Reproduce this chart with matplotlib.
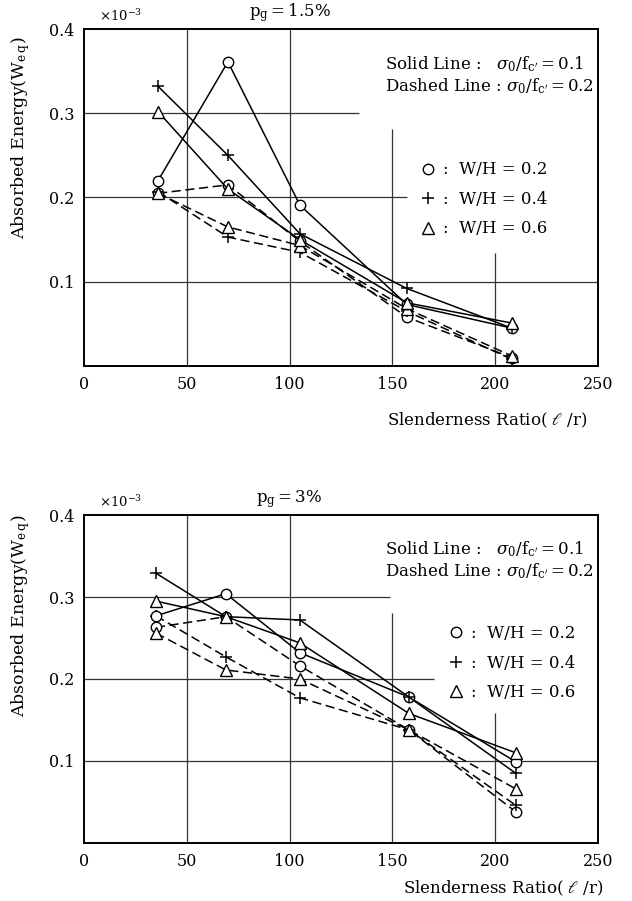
"""Absorbed energy vs slenderness ratio for two steel ratios (p_g = 1.5 % and 3 %)."""

import matplotlib

matplotlib.use("Agg")
import matplotlib.pyplot as plt
from matplotlib.lines import Line2D

# ---- data (values in units of 1e-3) ----
slender_top = [36, 70, 105, 157, 208]
top_solid_circle = [0.220, 0.361, 0.191, 0.073, 0.045]
top_solid_plus = [0.332, 0.250, 0.157, 0.092, 0.045]
top_solid_tri = [0.302, 0.210, 0.150, 0.075, 0.051]
top_dash_circle = [0.205, 0.215, 0.148, 0.058, 0.010]
top_dash_plus = [0.207, 0.153, 0.135, 0.065, 0.008]
top_dash_tri = [0.205, 0.165, 0.143, 0.068, 0.012]

slender_bot = [35, 69, 105, 158, 210]
bot_solid_circle = [0.277, 0.304, 0.232, 0.178, 0.099]
bot_solid_plus = [0.329, 0.276, 0.272, 0.178, 0.085]
bot_solid_tri = [0.295, 0.276, 0.244, 0.158, 0.110]
bot_dash_circle = [0.263, 0.276, 0.216, 0.138, 0.038]
bot_dash_plus = [0.277, 0.227, 0.177, 0.138, 0.046]
bot_dash_tri = [0.256, 0.211, 0.200, 0.138, 0.066]

x_ticks = [0, 50, 100, 150, 200, 250]
y_ticks = [0.1, 0.2, 0.3, 0.4]
wh_labels = [":  W/H = 0.2", ":  W/H = 0.4", ":  W/H = 0.6"]

# partial grid lines: (value, extent end)
top_hgrid = [(0.3, 134), (0.2, 157), (0.1, 250)]
top_vgrid = [(50, 0.4), (100, 0.4), (150, 0.281), (200, 0.134)]
bot_hgrid = [(0.3, 149), (0.2, 170), (0.1, 250)]
bot_vgrid = [(50, 0.4), (100, 0.4), (150, 0.280), (200, 0.158)]

plt.rcParams["font.family"] = ["DejaVu Serif"]
plt.rcParams["mathtext.fontset"] = "dejavuserif"

MARKERS = {
    "circle": dict(marker="o", ms=7.5, mfc="white", mec="black", mew=1.0),
    "plus": dict(marker="+", ms=8.5, mec="black", mew=1.1),
    "tri": dict(marker="^", ms=8.5, mfc="white", mec="black", mew=1.0),
}
DASH = (0, (6, 3))
FS = 12


def draw_panel(ax, xs, solid, dashed, hgrid, vgrid, title, legend_anchor):
    ax.set_xlim(0, 250)
    ax.set_ylim(0, 0.4)
    for y, xend in hgrid:
        ax.hlines(y, 0, xend, color="#333333", lw=0.9, zorder=1)
    for x, yend in vgrid:
        ax.vlines(x, 0, yend, color="#333333", lw=0.9, zorder=1)

    for name, ys in dashed.items():
        ax.plot(xs, ys, color="black", lw=1.1, ls=DASH, zorder=2, **MARKERS[name])
    for name, ys in solid.items():
        ax.plot(xs, ys, color="black", lw=1.1, ls="-", zorder=3, **MARKERS[name])

    ax.set_xticks(x_ticks)
    ax.set_xticklabels([str(v) for v in x_ticks])
    ax.set_yticks(y_ticks)
    ax.set_yticklabels([f"{v:.1f}" for v in y_ticks])
    ax.tick_params(length=0, labelsize=11.5, pad=7)
    for spine in ax.spines.values():
        spine.set_linewidth(1.4)

    ax.text(0.03, 1.015, r"$\times 10^{-3}$", transform=ax.transAxes, fontsize=9.5, va="bottom")
    ax.text(0.40, 1.015, title, transform=ax.transAxes, fontsize=FS, ha="center", va="bottom")
    ax.text(0.585, 0.895, r"Solid Line :   $\sigma_0/\mathrm{f}_{\mathrm{c}^{\prime}}=0.1$",
            transform=ax.transAxes, fontsize=FS, va="center")
    ax.text(0.585, 0.83, r"Dashed Line : $\sigma_0/\mathrm{f}_{\mathrm{c}^{\prime}}=0.2$",
            transform=ax.transAxes, fontsize=FS, va="center")

    handles = [Line2D([], [], ls="none", color="black", **MARKERS[k]) for k in ("circle", "plus", "tri")]
    ax.legend(handles, wh_labels, loc="upper left", bbox_to_anchor=legend_anchor, frameon=False,
              fontsize=FS, handlelength=1.0, handletextpad=0.4, labelspacing=0.75, borderaxespad=0)


def main() -> None:
    fig = plt.figure(figsize=(6.32, 9.01), dpi=100)
    ax_top = fig.add_axes([0.1329, 0.5938, 0.8133, 0.374])
    ax_bot = fig.add_axes([0.1329, 0.0644, 0.8133, 0.364])

    draw_panel(
        ax_top, slender_top,
        {"circle": top_solid_circle, "plus": top_solid_plus, "tri": top_solid_tri},
        {"circle": top_dash_circle, "plus": top_dash_plus, "tri": top_dash_tri},
        top_hgrid, top_vgrid, r"p$_{\mathrm{g}}$$=$1.5%", (0.64, 0.627),
    )
    draw_panel(
        ax_bot, slender_bot,
        {"circle": bot_solid_circle, "plus": bot_solid_plus, "tri": bot_solid_tri},
        {"circle": bot_dash_circle, "plus": bot_dash_plus, "tri": bot_dash_tri},
        bot_hgrid, bot_vgrid, r"p$_{\mathrm{g}}$$=$3%", (0.695, 0.684),
    )

    ylab = r"Absorbed Energy(W$_{\mathrm{e\,q}}$)"
    fig.text(0.032, 0.847, ylab, rotation=90, ha="center", va="center", fontsize=12.5)
    fig.text(0.032, 0.317, ylab, rotation=90, ha="center", va="center", fontsize=12.5)
    xlab = r"Slenderness Ratio( $\ell$ /r)"
    fig.text(0.93, 0.533, xlab, ha="right", va="center", fontsize=FS)
    fig.text(0.955, 0.0144, xlab, ha="right", va="center", fontsize=FS)

    fig.savefig("out.png", dpi=100)


if __name__ == "__main__":
    main()
